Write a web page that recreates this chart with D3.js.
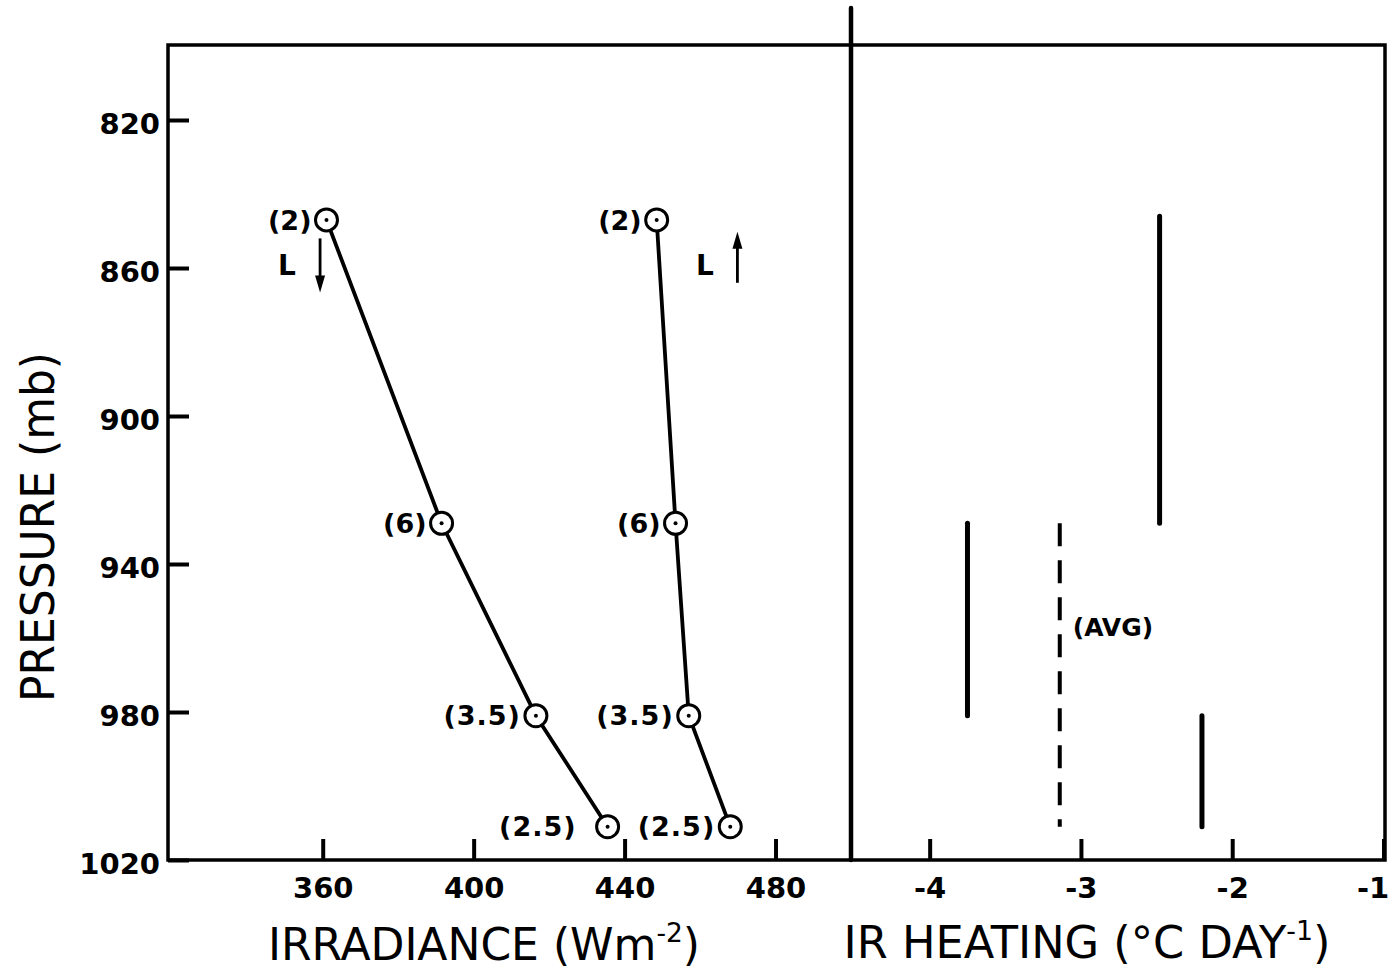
<!DOCTYPE html>
<html>
<head>
<meta charset="utf-8">
<script src="https://cdn.jsdelivr.net/npm/d3@7"></script>
<style>
  html, body { margin: 0; padding: 0; background: #fff; }
  svg { display: block; }
  text { fill: #000; }
</style>
</head>
<body>
<svg id="chart" width="1395" height="973"></svg>
<script>
// Pressure levels of the observations (mb)
const pressureLevels = [847, 929, 981, 1011];
// Downward (L↓) and upward (L↑) longwave irradiance at each level (W m^-2)
const downIrradiance = [361, 391.5, 416.5, 435.5];
const upIrradiance = [448.5, 453.5, 457, 468];
// Number of soundings averaged at each level
const pointLabels = ["(2)", "(6)", "(3.5)", "(2.5)"];

// IR heating rate for each layer (°C day^-1)
const heatingValues = [-2.48, -3.75, -2.2];
const layerTop = [846, 929, 981];
const layerBottom = [929, 981, 1011];
// Layer-averaged heating
const avgHeating = -3.14;
const avgTop = 929;
const avgBottom = 1011;

// Axis ticks
const pressureTicks = [820, 860, 900, 940, 980, 1020];
const irradianceTicks = [360, 400, 440, 480];
const heatingTicks = [-4, -3, -2, -1];

const svg = d3.select("#chart");
const FONT = "'DejaVu Sans', sans-serif";

const frame = { left: 168, right: 1385, top: 45, bottom: 860, divider: 851 };

const y = d3.scaleLinear().domain([800, 1020]).range([46, frame.bottom]);
const xIrr = d3.scaleLinear().domain([319, 500]).range([frame.left, frame.divider]);
const xHeat = d3.scaleLinear().domain([-4.52, -0.99]).range([frame.divider, frame.right]);

// Frame and panel divider
svg.append("rect")
  .attr("x", frame.left).attr("y", frame.top)
  .attr("width", frame.right - frame.left).attr("height", frame.bottom - frame.top)
  .attr("fill", "none").attr("stroke", "#000").attr("stroke-width", 3.5);
svg.append("line")
  .attr("x1", frame.divider).attr("x2", frame.divider)
  .attr("y1", 8).attr("y2", frame.bottom)
  .attr("stroke", "#000").attr("stroke-width", 4.5).attr("stroke-linecap", "round");

function styleAxis(g) {
  g.select(".domain").remove();
  g.selectAll(".tick line").attr("stroke", "#000").attr("stroke-width", 4);
  g.selectAll(".tick text")
    .attr("font-family", FONT).attr("font-weight", "bold").attr("font-size", 29)
    .attr("fill", "#000");
}

// Pressure axis (ticks point inward)
svg.append("g")
  .attr("transform", `translate(${frame.left},0)`)
  .call(d3.axisLeft(y).tickValues(pressureTicks).tickSize(-21).tickPadding(8).tickFormat(d3.format("d")))
  .call(styleAxis)
  .call(g => g.selectAll(".tick text").attr("dy", "0.45em"));

// Irradiance axis
svg.append("g")
  .attr("transform", `translate(0,${frame.bottom})`)
  .call(d3.axisBottom(xIrr).tickValues(irradianceTicks).tickSize(-21).tickPadding(17).tickFormat(d3.format("d")))
  .call(styleAxis);

// Heating axis
svg.append("g")
  .attr("transform", `translate(0,${frame.bottom})`)
  .call(d3.axisBottom(xHeat).tickValues(heatingTicks).tickSize(-21).tickPadding(17).tickFormat(d => "-" + Math.abs(d)))
  .call(styleAxis)
  .call(g => g.selectAll(".tick").filter(d => d === -1).select("text").attr("x", -11));

// Irradiance profiles
const line = d3.line().x(d => xIrr(d[0])).y(d => y(d[1]));
const series = [downIrradiance, upIrradiance];
series.forEach(vals => {
  const pts = vals.map((v, i) => [v, pressureLevels[i]]);
  svg.append("path")
    .datum(pts)
    .attr("d", line)
    .attr("fill", "none").attr("stroke", "#000").attr("stroke-width", 3.8);
  const g = svg.append("g").selectAll("g").data(pts).join("g")
    .attr("transform", d => `translate(${xIrr(d[0])},${y(d[1])})`);
  g.append("circle").attr("r", 11).attr("fill", "#fff").attr("stroke", "#000").attr("stroke-width", 3);
  g.append("circle").attr("r", 2).attr("fill", "#000");
  g.append("text")
    .attr("x", (d, i) => (vals === downIrradiance && i === 3) ? -31 : -15)
    .attr("y", 0).attr("dy", "0.36em")
    .attr("text-anchor", "end")
    .attr("font-family", FONT).attr("font-weight", "bold").attr("font-size", 27)
    .attr("letter-spacing", (d, i) => i >= 2 ? 1 : 0)
    .text((d, i) => pointLabels[i]);
});

// L↓ / L↑ annotations
function arrow(xv, pFrom, pTo) {
  const x = xIrr(xv), y1 = y(pFrom), y2 = y(pTo);
  const dir = Math.sign(y2 - y1);
  svg.append("line")
    .attr("x1", x).attr("x2", x).attr("y1", y1).attr("y2", y2 - dir * 12)
    .attr("stroke", "#000").attr("stroke-width", 2.8);
  svg.append("path")
    .attr("d", `M${x - 5},${y2 - dir * 17} L${x + 5},${y2 - dir * 17} L${x},${y2} Z`)
    .attr("fill", "#000");
}
arrow(359.3, 852, 866.6);
arrow(469.9, 864, 850.2);
svg.append("text").attr("x", xIrr(350.5)).attr("y", y(861.8))
  .attr("text-anchor", "middle")
  .attr("font-family", FONT).attr("font-weight", "bold").attr("font-size", 28).text("L");
svg.append("text").attr("x", xIrr(461.3)).attr("y", y(861.8))
  .attr("text-anchor", "middle")
  .attr("font-family", FONT).attr("font-weight", "bold").attr("font-size", 28).text("L");

// Heating bars
svg.append("g").selectAll("line").data(heatingValues).join("line")
  .attr("x1", d => xHeat(d)).attr("x2", d => xHeat(d))
  .attr("y1", (d, i) => y(layerTop[i])).attr("y2", (d, i) => y(layerBottom[i]))
  .attr("stroke", "#000").attr("stroke-width", 5).attr("stroke-linecap", "round");

svg.append("line")
  .attr("x1", xHeat(avgHeating)).attr("x2", xHeat(avgHeating))
  .attr("y1", y(avgTop)).attr("y2", y(avgBottom))
  .attr("stroke", "#000").attr("stroke-width", 4)
  .attr("stroke-dasharray", "23 14");
svg.append("text")
  .attr("x", xHeat(avgHeating) + 13).attr("y", y(avgTop) + 113)
  .attr("font-family", FONT).attr("font-weight", "bold").attr("font-size", 25)
  .text("(AVG)");

// Axis titles, fitted horizontally to their span
function fitWidth(sel, width) {
  const w = sel.node().getComputedTextLength();
  const x = +sel.attr("x"), yy = +sel.attr("y");
  sel.attr("transform", `translate(${x},${yy}) scale(${width / w},1) translate(${-x},${-yy})`);
}

const t1 = svg.append("text").attr("x", 484).attr("y", 960)
  .attr("text-anchor", "middle").attr("font-family", FONT).attr("font-size", 45);
t1.append("tspan").text("IRRADIANCE (Wm");
t1.append("tspan").attr("font-size", 27).attr("dy", -18).text("-2");
t1.append("tspan").attr("dy", 18).text(")");
fitWidth(t1, 432);

const t2 = svg.append("text").attr("x", 1087).attr("y", 958)
  .attr("text-anchor", "middle").attr("font-family", FONT).attr("font-size", 45);
t2.append("tspan").text("IR HEATING (°C DAY");
t2.append("tspan").attr("font-size", 27).attr("dy", -18).text("-1");
t2.append("tspan").attr("dy", 18).text(")");
fitWidth(t2, 487);

const t3 = svg.append("text").attr("x", 0).attr("y", 0)
  .attr("text-anchor", "middle").attr("font-family", FONT).attr("font-size", 47)
  .text("PRESSURE (mb)");
const w3 = t3.node().getComputedTextLength();
t3.attr("transform", `translate(54,527) rotate(-90) scale(${350 / w3},1)`);
</script>
</body>
</html>
